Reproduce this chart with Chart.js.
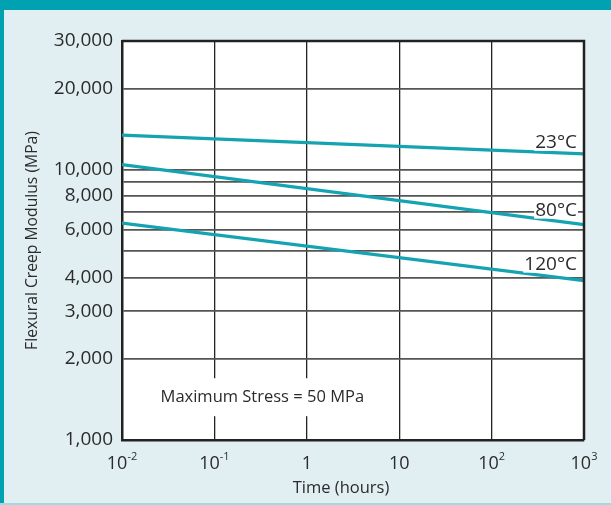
<!DOCTYPE html>
<html>
<head>
<meta charset="utf-8">
<script src="https://cdn.jsdelivr.net/npm/chart.js@4.4.1/dist/chart.umd.min.js"></script>
<style>
  html, body { margin: 0; padding: 0; background: #e1eff3; }
  canvas { display: block; }
</style>
</head>
<body>
<canvas id="grafico" width="611" height="505"></canvas>
<script>
// ====== DATA ======
const tempos = [0.01, 1000];                 // hours, ends of each line
const modulo23 = [13450, 11470];             // MPa
const modulo80 = [10460, 6270];
const modulo120 = [6350, 3890];
const rotulos = ['23°C', '80°C', '120°C'];

const xTicks = [0.01, 0.1, 1, 10, 100, 1000];
const xBase = ['10', '10', '1', '10', '10', '10'];
const xExpoente = ['-2', '-1', '', '', '2', '3'];
const yTicks = [1000, 2000, 3000, 4000, 5000, 6000, 7000, 8000, 9000, 10000, 20000, 30000];
const yTickLabels = ['1,000', '2,000', '3,000', '4,000', '', '6,000', '', '8,000', '', '10,000', '20,000', '30,000'];

const nota = 'Maximum Stress = 50 MPa';

// ====== STYLE ======
const teal = '#00a2b2';
const linha = '#15a3b2';
const texto = '#2b2b2b';
const fonte = '"Open Sans", Lato, sans-serif';

const series = [modulo23, modulo80, modulo120];

// ====== PLUGIN: frame, labels, note ======
const moldura = {
  id: 'moldura',
  beforeDraw(chart) {
    const { ctx, chartArea: a, width, height } = chart;
    ctx.save();
    ctx.fillStyle = '#e1eff3';
    ctx.fillRect(0, 0, width, height);
    ctx.fillStyle = teal;
    ctx.fillRect(0, 0, width, 10);
    ctx.fillRect(0, 0, 4, height);
    ctx.fillStyle = '#9fdbe3';
    ctx.fillRect(0, height - 2, width, 2);
    ctx.fillStyle = '#ffffff';
    ctx.fillRect(a.left, a.top, a.right - a.left, a.bottom - a.top);
    ctx.restore();
  },
  afterDatasetsDraw(chart) {
    const { ctx, chartArea: a, scales } = chart;
    ctx.save();
    ctx.font = '19px ' + fonte;
    ctx.textBaseline = 'middle';
    ctx.textAlign = 'right';
    const deslocY = [-12, -15, -17];
    series.forEach((s, i) => {
      const y = scales.y.getPixelForValue(s[s.length - 1]) + deslocY[i];
      const w = ctx.measureText(rotulos[i]).width;
      ctx.fillStyle = '#ffffff';
      ctx.fillRect(a.right - 7 - w - 1, y - 9, w + 2, 18);
      ctx.fillStyle = texto;
      ctx.fillText(rotulos[i], a.right - 7, y + 1);
    });

    // note
    ctx.font = '16.5px ' + fonte;
    ctx.textAlign = 'center';
    const nx = scales.x.getPixelForValue(0.33);
    const ny = scales.y.getPixelForValue(1440);
    const nw = ctx.measureText(nota).width;
    ctx.fillStyle = '#ffffff';
    ctx.fillRect(nx - nw / 2 - 8, ny - 19, nw + 16, 38);
    ctx.fillStyle = texto;
    ctx.fillText(nota, nx, ny);

    // top and right border
    ctx.strokeStyle = '#222';
    ctx.lineWidth = 2.5;
    ctx.beginPath();
    ctx.moveTo(a.left, a.top);
    ctx.lineTo(a.right, a.top);
    ctx.lineTo(a.right, a.bottom);
    ctx.stroke();

    // x tick labels with superscripts
    ctx.fillStyle = texto;
    ctx.textBaseline = 'alphabetic';
    xTicks.forEach((v, i) => {
      const px = scales.x.getPixelForValue(v);
      ctx.font = '18px ' + fonte;
      const wb = ctx.measureText(xBase[i]).width;
      ctx.font = '11px ' + fonte;
      const we = xExpoente[i] ? ctx.measureText(xExpoente[i]).width : 0;
      const x0 = px - (wb + we) / 2;
      ctx.textAlign = 'left';
      ctx.font = '18px ' + fonte;
      ctx.fillText(xBase[i], x0, 469);
      if (xExpoente[i]) {
        ctx.font = '11px ' + fonte;
        ctx.fillText(xExpoente[i], x0 + wb, 460);
      }
    });

    // x title
    ctx.textAlign = 'center';
    ctx.textBaseline = 'middle';
    ctx.font = '16.5px ' + fonte;
    ctx.fillText('Time (hours)', (a.left + a.right) / 2 - 12, 488);
    ctx.restore();
  }
};

// ====== CHART ======
const ctx = document.getElementById('grafico').getContext('2d');
new Chart(ctx, {
  type: 'line',
  data: {
    datasets: series.map((s, i) => ({
      label: rotulos[i],
      data: tempos.map((t, j) => ({ x: t, y: s[j] })),
      borderColor: linha,
      borderWidth: 3.2,
      pointRadius: 0,
      fill: false,
      tension: 0,
    })),
  },
  options: {
    responsive: false,
    animation: false,
    layout: { padding: { top: 41, right: 27, left: 0, bottom: 0 } },
    plugins: { legend: { display: false }, tooltip: { enabled: false } },
    scales: {
      x: {
        type: 'logarithmic',
        min: 0.01,
        max: 1000,
        afterBuildTicks: s => { s.ticks = xTicks.map(v => ({ value: v })); },
        afterFit: s => { s.height = 65; },
        ticks: {
          autoSkip: false,
          maxRotation: 0,
          callback: () => '',
        },
        grid: { color: '#222', lineWidth: 1.3, drawTicks: false },
        border: { color: '#222', width: 2.5 },
      },
      y: {
        type: 'logarithmic',
        min: 1000,
        max: 30000,
        afterBuildTicks: s => { s.ticks = yTicks.map(v => ({ value: v })); },
        afterFit: s => { s.width = 122; },
        ticks: {
          autoSkip: false,
          padding: 9,
          color: texto,
          font: { family: fonte, size: 19 },
          callback: (v, i) => yTickLabels[i],
        },
        grid: { color: '#555', lineWidth: 1.7, drawTicks: false },
        border: { color: '#222', width: 2.5 },
        title: {
          display: true,
          text: 'Flexural Creep Modulus (MPa)',
          color: texto,
          font: { family: fonte, size: 15.7 },
          padding: { top: 23, bottom: 0 },
        },
      },
    },
  },
  plugins: [moldura],
});
</script>
</body>
</html>
